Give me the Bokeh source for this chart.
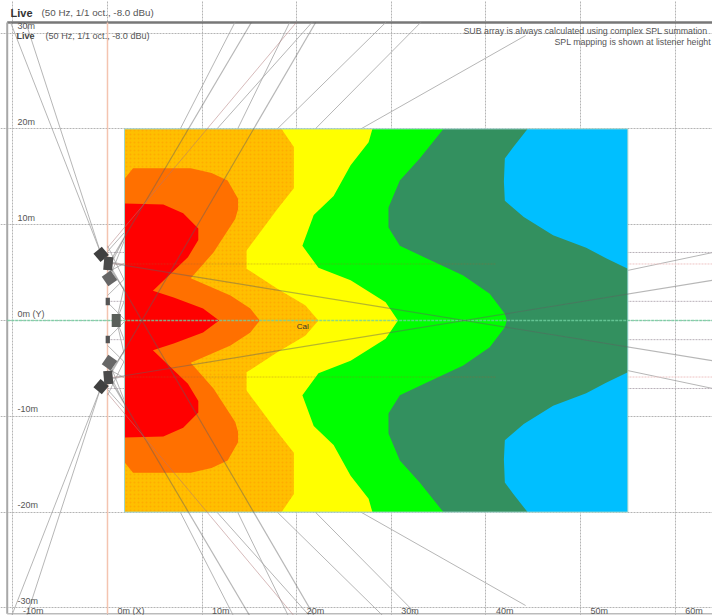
from bokeh.plotting import figure
from bokeh.models import FixedTicker, Label
from bokeh.core.properties import value
from bokeh.embed import file_html
from bokeh.resources import INLINE

# ---- data (metres) ----
x_ticks = [-10, 0, 10, 20, 30, 40, 50, 60]
x_labels = ["-10m", "0m (X)", "10m", "20m", "30m", "40m", "50m", "60m"]
y_ticks = [30, 20, 10, 0, -10, -20, -30]
y_labels = ["30m", "20m", "10m", "0m (Y)", "-10m", "-20m", "-30m"]

map_x = [1.8, 55.0]
map_y = [-20, 20]

# upper half boundaries of the SPL bands, from the top edge to the axis
seagreen_x = [44.4, 42.9, 42.0, 41.9, 42.0, 44.0, 47.1, 50.6, 52.7, 55.0]
seagreen_y = [20, 18.1, 16.9, 14.5, 12.5, 10.8, 8.9, 7.6, 6.5, 5.4]
green_x = [35.5, 33.0, 30.9, 29.7, 29.7, 30.9, 33.7, 37.6, 40.4, 42.0, 42.2]
green_y = [20, 16.9, 14.6, 11.8, 9.7, 7.8, 6.5, 4.7, 2.8, 0.7, 0]
yellow_x = [28.0, 27.6, 25.7, 23.9, 21.8, 20.6, 22.3, 25.7, 29.4, 30.7]
yellow_y = [20, 18.6, 16.2, 13.0, 11.0, 7.8, 5.5, 4.2, 1.9, 0]
amber_x = [18.4, 19.7, 19.7, 18.0, 14.7, 14.7, 18.0, 20.9, 22.3]
amber_y = [20, 18.1, 13.8, 11.7, 7.3, 5.4, 3.3, 1.6, 0]
orange_x = [1.8, 2.7, 8.8, 11.0, 12.7, 13.8, 13.8, 13.5, 11.2, 8.8, 13.0, 15.1, 16.1]
orange_y = [14.8, 15.9, 15.9, 15.4, 14.6, 12.7, 11.6, 10.6, 7.1, 4.4, 2.6, 1.25, 0]
red_x = [1.8, 5.9, 8.0, 9.6, 9.6, 8.5, 4.8, 7.0, 10.1, 11.8]
red_y = [12.2, 12.1, 11.2, 9.6, 8.4, 6.6, 3.1, 2.4, 1.25, 0]

# rays of the upper half: x0, y0, x1, y1 (the lower half is their mirror)
ray_x0 = [-0.74, -0.74, 0, 0, 0, 0, 0, 0, 0, -0.67, 0.2, 0.95, 0.95]
ray_y0 = [7.1, 7.1, 5.2, 7.2, -7.8, 2.6, -1.9, 5.0, -6.2, 6.9, 4.4, 0, 0]
ray_x1 = [-10.24, -8.63, 13.46, 21.6, 19.25, 29.4, 33.1, 44.2, 64, 1.8, 1.8, 1.8, 1.8]
ray_y1 = [31.1, 31.1, 31.1, 31.1, 31.1, 31.1, 31.1, 29.75, 7.1, 3.1, 8.4, 2.1, 3.65]
over_x0 = [15.2, 22.0, 0]
over_y0 = [31.1, 31.1, -6.05]
over_x1 = [0, -0.2, 64]
over_y1 = [5.7, -6.5, 4.2]
pink_ray_x = [19.95, 0]
pink_ray_y = [31.1, 7.6]
row_y = [7.1, 2.0]
pink_row_y = [5.9]

# loudspeakers
spk_x = [-0.67, 0.08, 0.21, 0.03]
spk_y = [6.9, 5.95, 4.4, 1.98]
spk_w = [1.15, 0.95, 1.15, 0.45]
spk_h = [1.15, 1.4, 1.2, 0.8]
spk_a = [40, -5, 35, 0]
spk_c = ["#404040", "#4a4a4a", "#666666", "#555555"]
ctr_x, ctr_w, ctr_h = [0.92], [0.95], [1.35]

x_lo, x_hi = -11.31, 63.95
y_lo, y_hi = -30.79, 33.40
left_frame, top_frame, bottom_frame = -10.6, 31.1, -30.6

bands = [
    (seagreen_x, seagreen_y, "#33905F"),
    (green_x, green_y, "#00FF00"),
    (yellow_x, yellow_y, "#FFFF00"),
    (amber_x, amber_y, "#FFBF00"),
    (orange_x, orange_y, "#FF7000"),
    (red_x, red_y, "#FF0000"),
]

p = figure(width=712, height=615, x_range=(x_lo, x_hi), y_range=(y_lo, y_hi),
           output_backend="svg", toolbar_location=None, min_border=0,
           outline_line_color=None, background_fill_color="white")
p.xaxis.visible = False
p.yaxis.visible = False
p.xgrid.ticker = FixedTicker(ticks=x_ticks)
p.ygrid.ticker = FixedTicker(ticks=y_ticks)
p.xgrid.bounds = (bottom_frame, top_frame)
p.ygrid.bounds = (left_frame, x_hi)
for g in (p.xgrid, p.ygrid):
    g.grid_line_color = "#b4b4b4"
    g.grid_line_dash = "2 1"
    g.grid_line_width = 1

# frame and axis markers
p.line([left_frame, x_hi], [top_frame, top_frame], line_color="#777777", line_width=2.5)
p.line([left_frame, left_frame], [bottom_frame, top_frame], line_color="#a8a8a8", line_width=2)
p.line([left_frame, x_hi], [bottom_frame, bottom_frame], line_color="#bbbbbb", line_width=1.5)
p.line([0, 0], [bottom_frame, top_frame], line_color="#f4c4b0", line_width=1.5)

GRAY = "#a4a4a4"
# rays under the map
xs = [[a, c] for a, c in zip(ray_x0, ray_x1)]
ys = [[b, d] for b, d in zip(ray_y0, ray_y1)] + [[-b, -d] for b, d in zip(ray_y0, ray_y1)]
p.multi_line(xs + xs, ys, line_color=GRAY, line_alpha=0.8, line_width=1)
for r in row_y:
    for s in (1, -1):
        p.line([0, x_hi], [s * r, s * r], line_color="#b8b0b8", line_width=1, line_dash="2 1")
for r in pink_row_y:
    for s in (1, -1):
        p.line([0, x_hi], [s * r, s * r], line_color="#eec4c4", line_width=1, line_dash="2 1")

# SPL map
p.patch([map_x[0], map_x[1], map_x[1], map_x[0]], [map_y[0], map_y[0], map_y[1], map_y[1]],
        fill_color="#00BFFF", line_color=None)
for bx, by, col in bands:
    px = [map_x[0]] + bx + bx[::-1] + [map_x[0]]
    py = [by[0]] + by + [-v for v in by[::-1]] + [-by[0]]
    if col == "#FFBF00":
        p.patch(px, py, fill_color=col, line_color=None, hatch_pattern="dot",
                hatch_color="#FF8000", hatch_alpha=0.3, hatch_scale=4, hatch_weight=0.6)
    else:
        p.patch(px, py, fill_color=col, line_color=None)
p.line([map_x[0], map_x[1], map_x[1], map_x[0], map_x[0]],
       [map_y[0], map_y[0], map_y[1], map_y[1], map_y[0]], line_color="#a0d4cc", line_width=1)

# things drawn over the map
for r in pink_row_y:
    for s in (1, -1):
        p.line([map_x[0], 41], [s * r, s * r], line_color="#a06030", line_alpha=0.35,
               line_width=1, line_dash="2 1")
p.line([left_frame, x_hi], [0, 0], line_color="#70d0a0", line_alpha=0.8, line_width=1.5, line_dash="3 1")
oxs = [[a, c] for a, c in zip(over_x0, over_x1)]
oys = [[b, d] for b, d in zip(over_y0, over_y1)] + [[-b, -d] for b, d in zip(over_y0, over_y1)]
p.multi_line(oxs + oxs, oys, line_color="#606060", line_alpha=0.45, line_width=1.2)
p.line(pink_ray_x, pink_ray_y, line_color="#b07878", line_alpha=0.5, line_width=1)
p.line(pink_ray_x, [-v for v in pink_ray_y], line_color="#b07878", line_alpha=0.5, line_width=1)

# loudspeakers
p.rect(spk_x + spk_x, spk_y + [-v for v in spk_y], width=spk_w + spk_w, height=spk_h + spk_h,
       angle=spk_a + [-v for v in spk_a], angle_units="deg", fill_color=spk_c + spk_c, line_color=None)
p.rect(ctr_x, [0], width=ctr_w, height=ctr_h, fill_color="#5a5f5a", line_color=None)

# texts
FONT = value("Liberation Sans")
TXT = "#555555"
p.text(x_ticks, [y_lo] * len(x_ticks), text=x_labels, x_offset=10, y_offset=0, text_font=FONT,
       text_font_size="9px", text_color=TXT, text_baseline="bottom")
p.text([x_lo] * len(y_ticks), y_ticks, text=y_labels, x_offset=17, y_offset=-2, text_font=FONT,
       text_font_size="9px", text_color=TXT, text_baseline="bottom")
p.text([20.0], [-0.6], text=["Cal"], text_font=FONT, text_font_size="8px",
       text_color="#333333", text_baseline="middle")


def note(sx, sy, txt, size="8.5px", bold=False, color=TXT):
    p.add_layout(Label(x=sx, y=615 - sy, x_units="screen", y_units="screen", text=txt,
                       text_font="Liberation Sans", text_font_size=size,
                       text_font_style="bold" if bold else "normal", text_color=color,
                       text_baseline="middle"))


note(10, 12, "Live", "11px", True, "#333333")
note(41, 12, "(50 Hz, 1/1 oct., -8.0 dBu)", "9.8px")
note(16, 35, "Live", "9px", True, "#444444")
note(45, 35, "(50 Hz, 1/1 oct., -8.0 dBu)", "9.1px")
note(463, 30, "SUB array is always calculated using complex SPL summation", "8.8px")
note(554, 41, "SPL mapping is shown at listener height", "8.8px")

open("out.html", "w").write(file_html(p, INLINE))
